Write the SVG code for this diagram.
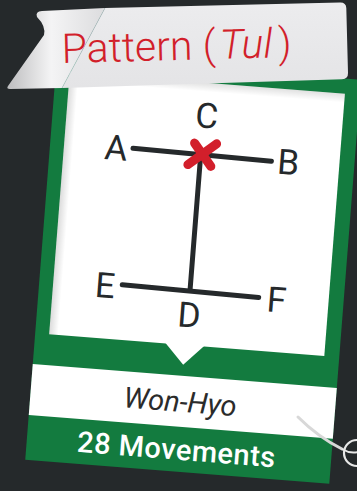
<svg xmlns="http://www.w3.org/2000/svg" width="357" height="491" viewBox="0 0 357 491">
  <defs>
    <linearGradient id="curl" x1="0" y1="0" x2="1" y2="0">
      <stop offset="0" stop-color="#bdbdbf"/>
      <stop offset="0.45" stop-color="#f4f4f5"/>
      <stop offset="1" stop-color="#dcdcde"/>
    </linearGradient>
    <linearGradient id="body" x1="0" y1="0" x2="0" y2="1">
      <stop offset="0" stop-color="#ececee"/>
      <stop offset="1" stop-color="#e4e4e6"/>
    </linearGradient>
    <linearGradient id="shL" x1="0" y1="0" x2="1" y2="0">
      <stop offset="0" stop-color="#000" stop-opacity="0.14"/>
      <stop offset="1" stop-color="#000" stop-opacity="0"/>
    </linearGradient>
    <linearGradient id="shT" x1="0" y1="0" x2="0" y2="1">
      <stop offset="0" stop-color="#000" stop-opacity="0.12"/>
      <stop offset="1" stop-color="#000" stop-opacity="0"/>
    </linearGradient>
    <style>
      .ln{stroke:#25292b;stroke-width:5;stroke-linecap:round;fill:none}
      .x{stroke:#d21f2b;stroke-width:9;stroke-linecap:round;fill:none}
      .lbl{font-family:Roboto,"Liberation Sans",sans-serif;font-weight:400;font-size:35px;fill:#25292b;text-anchor:middle}
    </style>
  </defs>
  <rect width="357" height="491" fill="#25292b"/>

  <g id="card" transform="translate(57,56) rotate(4.5)">
    <rect x="0" y="0" width="305" height="405" fill="#137b3f"/>
    <rect x="14" y="15" width="276" height="263" fill="#ffffff"/>
    <polygon points="130,277 170,277 150,298" fill="#ffffff"/>
    <rect x="14" y="15" width="9" height="263" fill="url(#shL)"/>
    <rect x="14" y="15" width="276" height="9" fill="url(#shT)"/>
    <rect x="0" y="309" width="305" height="51" fill="#ffffff"/>
    <g id="diagram">
      <g id="connectors">
        <line class="ln" x1="83" y1="86" x2="222" y2="88"/>
        <line class="ln" x1="151" y1="88" x2="151" y2="223"/>
        <line class="ln" x1="83" y1="223" x2="220" y2="225"/>
        <line class="x" x1="144" y1="76" x2="162" y2="98"/>
        <line class="x" x1="166" y1="75" x2="139" y2="98"/>
      </g>
      <g id="node-A"><text class="lbl" x="66" y="99">A</text></g>
      <g id="node-B"><text class="lbl" x="239" y="100">B</text></g>
      <g id="node-C"><text class="lbl" x="154" y="60">C</text></g>
      <g id="node-D"><text class="lbl" x="152" y="260">D</text></g>
      <g id="node-E"><text class="lbl" x="66" y="237">E</text></g>
      <g id="node-F"><text class="lbl" x="238" y="238">F</text></g>
    </g>
    <text x="150" y="345" font-family="Roboto,'Liberation Sans',sans-serif" font-style="italic" font-weight="400" font-size="29" fill="#2b2b2b" text-anchor="middle">Won-Hyo</text>
    <text x="150" y="393" font-family="Roboto,'Liberation Sans',sans-serif" font-weight="500" font-size="29" letter-spacing="0.5" fill="#ffffff" text-anchor="middle">28 Movements</text>
  </g>

  <g id="peel">
    <path d="M298,417 Q318,437 342,449" stroke="#d8d8d8" stroke-width="3" fill="none" stroke-linecap="round"/>
    <path d="M342,449 Q350,454 358,452" stroke="#e8e8e8" stroke-width="2" fill="none"/>
    <circle cx="357" cy="453" r="13" stroke="#e8e8e8" stroke-width="2.2" fill="none"/>
  </g>

  <g id="title">
    <path d="M105,8 L340,2.5 Q346,2.3 346.3,8 L348,73 Q348.2,79 342,79.3 L62,88 Z" fill="url(#body)"/>
    <path d="M105,8 L42,11 Q35,11.5 37,17 Q46,26 44,35 L8,86 Q6,89 10,89 L62,88 Z" fill="url(#curl)"/>
    <line x1="105" y1="8" x2="62" y2="88" stroke="#a9c2c2" stroke-width="0.6"/>
    <text transform="translate(62,63) rotate(-1.5)" font-family="Roboto,'Liberation Sans',sans-serif" font-weight="300" font-size="41" fill="#d21f2b">Pattern (<tspan font-style="italic" dx="4">Tul</tspan><tspan dx="6">)</tspan></text>
  </g>
</svg>
